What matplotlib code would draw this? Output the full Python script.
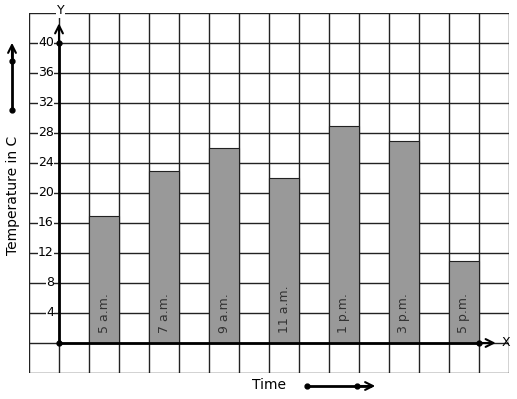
import matplotlib.pyplot as plt

# Data
times = ['5 a.m.', '7 a.m.', '9 a.m.', '11 a.m.', '1 p.m.', '3 p.m.', '5 p.m.']
temps = [17, 23, 26, 22, 29, 27, 11]
yticks = [4, 8, 12, 16, 20, 24, 28, 32, 36, 40]

fig = plt.figure(figsize=(5.17, 3.99), dpi=100)
ax = fig.add_axes([29 / 517, 26 / 399, 480 / 517, 360 / 399])
ax.set_xlim(-1, 15)
ax.set_ylim(-4, 44)
ax.axis('off')

# grid
for gx in range(-1, 16):
    ax.axvline(gx, color='#222222', lw=1, zorder=1)
for gy in range(-4, 45, 4):
    ax.axhline(gy, color='#222222', lw=1, zorder=1)

# bars
xs = [1.5 + 2 * i for i in range(len(times))]
ax.bar(xs, temps, width=1, color='#999999', edgecolor='#222222', lw=0.8, zorder=2)
for x, lab in zip(xs, times):
    ax.text(x, 1.3, lab, rotation=90, ha='center', va='bottom', fontsize=9, color='#333333', zorder=3)

# axes with arrows
ax.plot([0, 14], [0, 0], color='black', lw=2, zorder=4)
ax.plot([0, 0], [0, 40], color='black', lw=2, zorder=4)
ax.annotate('', xy=(14.65, 0), xytext=(13.9, 0),
            arrowprops=dict(arrowstyle='->', lw=1.5, color='black', mutation_scale=14), zorder=4)
ax.annotate('', xy=(0, 43), xytext=(0, 39.8),
            arrowprops=dict(arrowstyle='->', lw=1.5, color='black', mutation_scale=14), zorder=4)
ax.plot([0, 0, 14], [0, 40, 0], 'o', color='black', ms=3.5, zorder=5)
ax.text(14.9, 0, 'X', ha='center', va='center', fontsize=9)
ax.text(0.05, 44.3, 'Y', ha='center', va='center', fontsize=9,
        bbox=dict(facecolor='white', edgecolor='none', pad=0.5))

# y tick labels
for t in yticks:
    ax.text(-0.17, t, str(t), ha='right', va='center', fontsize=9, zorder=3,
            bbox=dict(facecolor='white', edgecolor='none', pad=0.3))

# axis titles and direction arrows
fig.text(13 / 517, 1 - 195 / 399, 'Temperature in C', rotation=90, ha='center', va='center', fontsize=10)
fig.text(269 / 517, 1 - 385 / 399, 'Time', ha='center', va='center', fontsize=10)

fig.add_artist(plt.Line2D([12 / 517, 12 / 517], [1 - 110 / 399, 1 - 48 / 399], color='black', lw=2))
ax.annotate('', xy=(12 / 517, 1 - 40 / 399), xytext=(12 / 517, 1 - 60 / 399), xycoords='figure fraction',
            textcoords='figure fraction', arrowprops=dict(arrowstyle='->', lw=1.5, color='black', mutation_scale=14))
fig.add_artist(plt.Line2D([12 / 517, 12 / 517], [1 - 110 / 399, 1 - 61 / 399], marker='o', ls='none',
                          color='black', ms=3.5))

fig.add_artist(plt.Line2D([307 / 517, 370 / 517], [1 - 386 / 399, 1 - 386 / 399], color='black', lw=2))
ax.annotate('', xy=(378 / 517, 1 - 386 / 399), xytext=(355 / 517, 1 - 386 / 399), xycoords='figure fraction',
            textcoords='figure fraction', arrowprops=dict(arrowstyle='->', lw=1.5, color='black', mutation_scale=14))
fig.add_artist(plt.Line2D([307 / 517, 357 / 517], [1 - 386 / 399, 1 - 386 / 399], marker='o', ls='none',
                          color='black', ms=3.5))

fig.savefig('out.png', dpi=100, facecolor='white')
